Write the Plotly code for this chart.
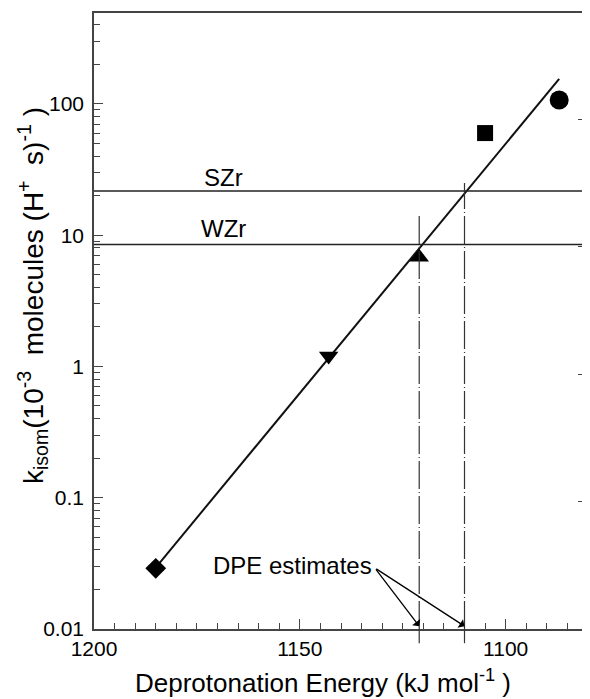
import numpy as np
import plotly.graph_objects as go

# ---- data ----
dpe_points = [1185, 1143, 1121, 1105, 1087]          # kJ/mol
k_points = [0.029, 1.2, 6.8, 60, 107]
symbols = ["diamond", "triangle-down", "triangle-up", "square", "circle"]

fit_x = [1184.5, 1087]
fit_y = [0.0307, 155]

szr_level = 21.7
wzr_level = 8.5
dpe_estimates = [1121, 1110]
dpe_top = [14.2, 25]

x_range = [1200, 1080]
y_range_log = [-2, np.log10(493)]
y2_range_log = [-2, 2.834]

font_family = "Liberation Sans, Arial, sans-serif"
black = "#000000"
axis_col = "#444444"
NB = "\u00a0"

fig = go.Figure()

fig.add_trace(go.Scatter(x=fit_x, y=fit_y, mode="lines",
                         line=dict(color="#111111", width=2), showlegend=False,
                         hoverinfo="skip"))
fig.add_trace(go.Scatter(x=dpe_points, y=k_points, mode="markers", opacity=1,
                         marker=dict(symbol=symbols, size=[16, 17, 17, 16, 19],
                                     color="black", opacity=1,
                                     line=dict(width=0, color="black")),
                         showlegend=False))
# invisible trace to anchor right axis
fig.add_trace(go.Scatter(x=[1150], y=[1], yaxis="y2", mode="markers",
                         marker=dict(opacity=0), showlegend=False, hoverinfo="skip"))

# horizontal reference lines
for lvl in [szr_level, wzr_level]:
    fig.add_shape(type="line", xref="paper", yref="y", x0=0, x1=1, y0=lvl, y1=lvl,
                  line=dict(color="#222222", width=1.5))

# vertical dash-dot lines
for xv, top in zip(dpe_estimates, dpe_top):
    fig.add_shape(type="line", xref="x", yref="y", x0=xv, x1=xv,
                  y0=10 ** y_range_log[0], y1=top,
                  line=dict(color="#333333", width=1.2, dash="28px,3px,1px,3px"))
    fig.add_shape(type="line", xref="x", yref="paper", x0=xv, x1=xv,
                  y0=-0.023, y1=0,
                  line=dict(color="#333333", width=1.2))

fig.add_annotation(x=1151.8, y=np.log10(0.0307), text="DPE estimates", showarrow=False,
                   xanchor="center", yanchor="middle",
                   font=dict(size=24, color=black, family=font_family))
for xv in dpe_estimates:
    fig.add_annotation(x=xv, y=np.log10(0.0105), ax=1131.8, ay=np.log10(0.0292),
                       axref="x", ayref="y", xref="x", yref="y", text="",
                       showarrow=True, arrowhead=1, arrowsize=1.3, arrowwidth=1.3,
                       arrowcolor=black, standoff=0)

fig.add_annotation(x=1168.5, y=np.log10(27.5), text="SZr", showarrow=False,
                   font=dict(size=24, color=black, family=font_family))
fig.add_annotation(x=1168.5, y=np.log10(11.2), text="WZr", showarrow=False,
                   font=dict(size=24, color=black, family=font_family))

# axis titles
fig.add_annotation(xref="paper", yref="paper", x=0.4636, y=-0.086,
                   xanchor="center", yanchor="middle", showarrow=False,
                   text="Deprotonation Energy (kJ mol<sup>-1</sup>" + NB + ")",
                   font=dict(size=26, color=black, family=font_family))
fig.add_annotation(xref="paper", yref="paper", x=-0.1235, y=0.542,
                   xanchor="center", yanchor="middle", showarrow=False, textangle=-90,
                   text=("k<sub>isom</sub>(10<sup>-3</sup>" + NB + " molecules (H<sup>+</sup>"
                         + NB + " s)<sup>-1</sup>" + NB + ")"),
                   font=dict(size=28, color=black, family=font_family))

minor_vals = [m * 10 ** e for e in range(-2, 3) for m in range(2, 10)]

fig.update_layout(
    width=590, height=699,
    margin=dict(l=86, r=10, t=5, b=78),
    paper_bgcolor="white", plot_bgcolor="white",
    font=dict(family=font_family, size=21, color=black),
    xaxis=dict(range=x_range, showgrid=False, zeroline=False, automargin=False,
               showline=True, linecolor=axis_col, linewidth=1.5, mirror=True,
               ticks="inside", ticklen=10, tickwidth=1.3, tickcolor=axis_col,
               tickvals=[1200, 1150, 1100], ticktext=["1200", "1150", "1100"],
               minor=dict(ticks="inside", ticklen=6, tickwidth=1.3, tickcolor=axis_col, dtick=5,
                          showgrid=False),
               tickfont=dict(size=21)),
    yaxis=dict(type="log", range=y_range_log, showgrid=False, zeroline=False, automargin=False,
               showline=True, linecolor=axis_col, linewidth=1.5,
               ticks="inside", ticklen=9, tickwidth=1.3, tickcolor=axis_col,
               tickvals=[0.01, 0.1, 1, 10, 100], ticktext=["0.01", "0.1", "1", "10", "100"],
               ticklabelstandoff=4,
               minor=dict(ticks="inside", ticklen=6, tickwidth=1.3, tickcolor=axis_col,
                          tickvals=minor_vals, showgrid=False),
               tickfont=dict(size=21)),
    yaxis2=dict(type="log", range=y2_range_log, overlaying="y", side="right",
                showgrid=False, zeroline=False, showline=True, linecolor=axis_col, linewidth=1.5,
                ticks="inside", ticklen=10, tickwidth=1.3, tickcolor=axis_col,
                tickvals=[0.01, 0.1, 1, 10, 100], showticklabels=False,
                minor=dict(ticks="inside", ticklen=6, tickwidth=1.3, tickcolor=axis_col,
                           tickvals=minor_vals + [600], showgrid=False)),
)

fig.write_html("out.html")
